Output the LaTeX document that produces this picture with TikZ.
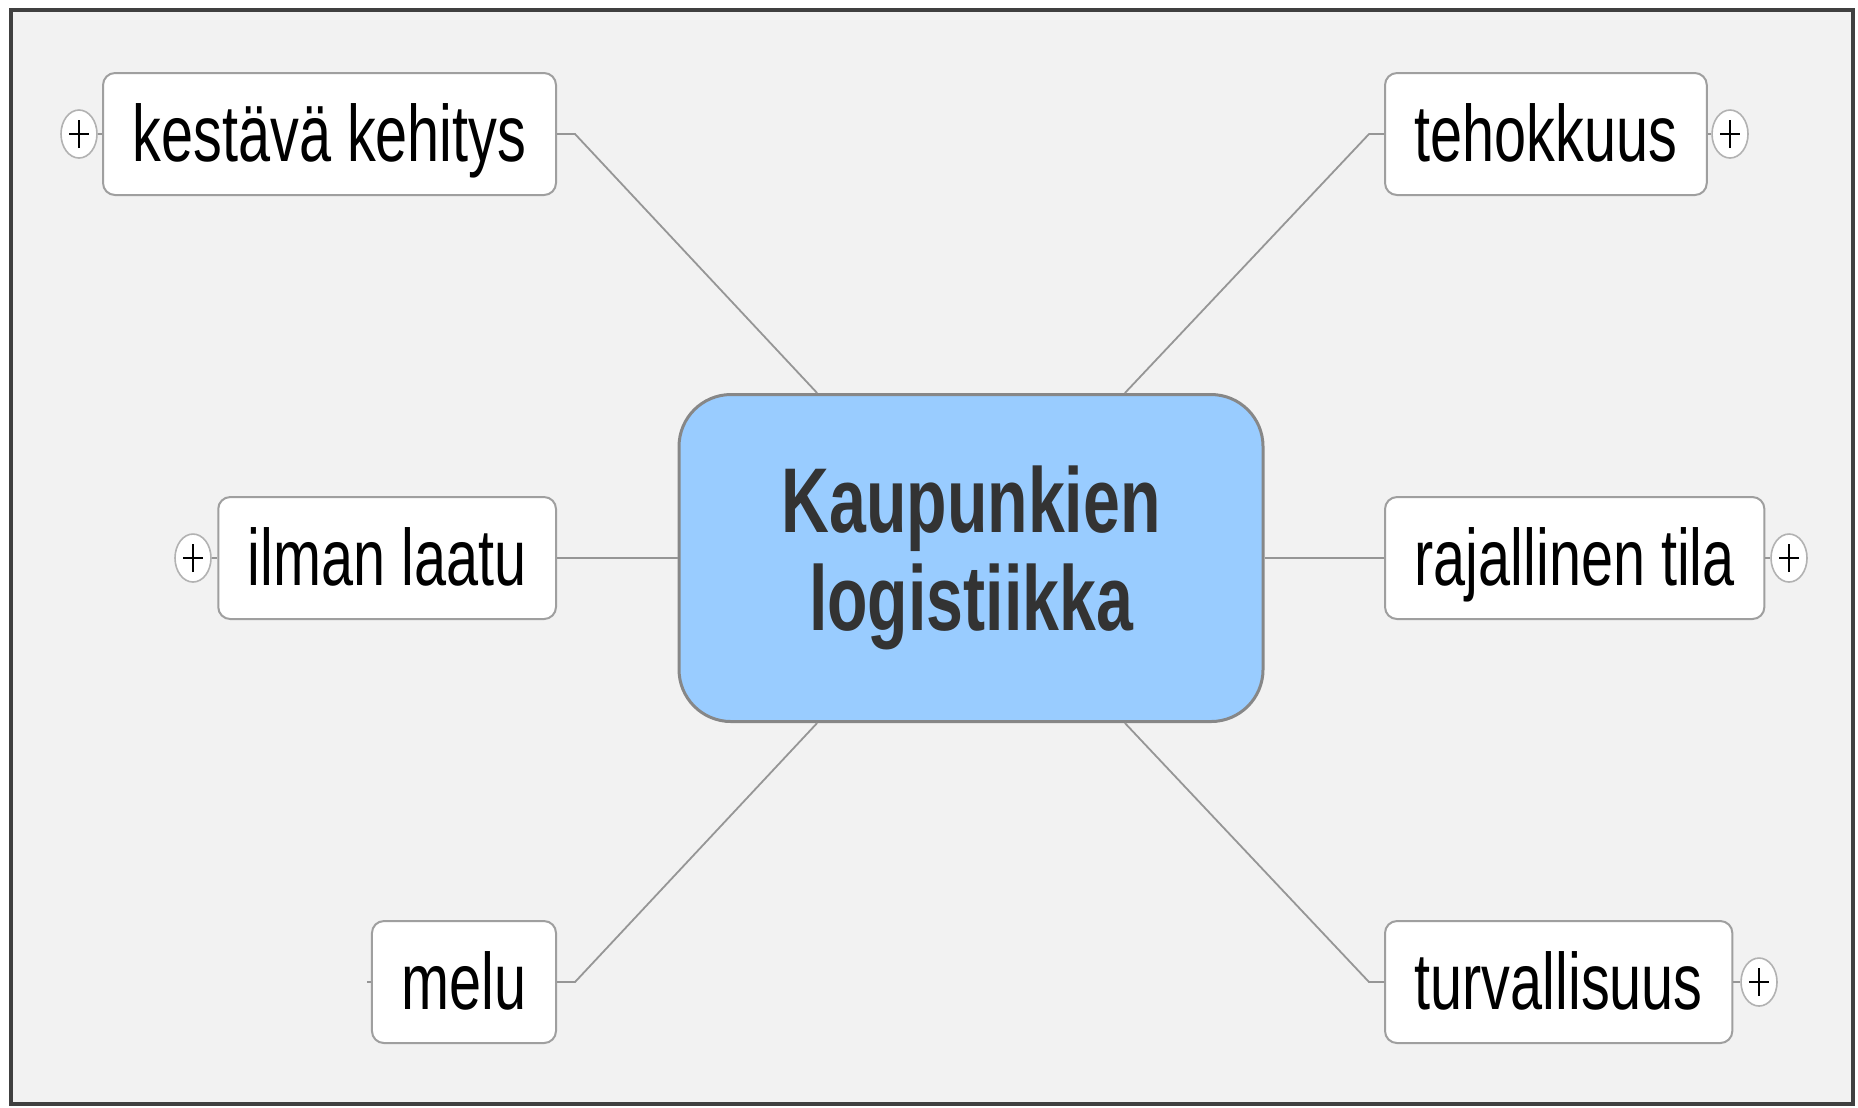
\documentclass[tikz,border=0pt]{standalone}
\usepackage{fontspec}
\newfontfamily\mapfont[FakeStretch=0.72]{Liberation Sans}
\usetikzlibrary{shapes.geometric}
\definecolor{hubblue}{RGB}{153, 204, 255}
\definecolor{canvasgray}{RGB}{242, 242, 242}
\definecolor{linkgray}{RGB}{150, 150, 150}
\definecolor{edgegray}{RGB}{135, 135, 135}

\begin{document}
\begin{tikzpicture}[x=0.25pt, y=-0.25pt,
    hub/.style={rectangle, rounded corners=13pt,
        minimum width=146pt, minimum height=81.75pt,
        align=center, inner sep=0pt,
        font=\mapfont\bfseries\fontsize{23}{24.5}\selectfont,
        text=black!80, fill=hubblue, draw=edgegray, line width=0.75pt},
    topic/.style={rectangle, rounded corners=3pt,
        minimum height=30.5pt, inner xsep=7.4pt,
        text height=15.5pt, text depth=2pt,
        font=\mapfont\fontsize{20}{24}\selectfont,
        fill=white, draw=gray!75, line width=0.5pt},
    toggle/.style={ellipse, minimum width=9pt, minimum height=12pt,
        inner sep=0pt, fill=white, draw=gray!60, line width=0.4pt,
        path picture={
            \draw[black, line width=0.6pt]
                ([xshift=-2.5pt]path picture bounding box.center) --
                ([xshift=2.5pt]path picture bounding box.center);
            \draw[black, line width=0.6pt]
                ([yshift=-3.5pt]path picture bounding box.center) --
                ([yshift=3.5pt]path picture bounding box.center);}},
    link/.style={draw=linkgray, line width=0.45pt},
]

% ── CANVAS ──────────────────────────────────────────────────────────────────
\useasboundingbox (0,0) rectangle (1858,1107);
\fill[white] (0,0) rectangle (1858,1107);
\draw[fill=canvasgray, draw=black!75, line width=1pt] (11,10) rectangle (1853,1104);

% ── CENTRAL TOPIC ───────────────────────────────────────────────────────────
\node[hub] at (971, 558) (hub) {Kaupunkien\\logistiikka};

% ── LEFT BRANCHES (right edges at x=557) ────────────────────────────────────
\node[topic, anchor=east] at (557, 134) (kestava) {kestävä kehitys};
\node[topic, anchor=east] at (557, 558) (ilma)    {ilman laatu};
\node[topic, anchor=east] at (557, 982) (melu)    {melu};

\node[toggle] at (79,  134) (kestava-tog) {};
\node[toggle] at (193, 558) (ilma-tog)    {};
\coordinate (melu-stub) at (367, 982);

% ── RIGHT BRANCHES (left edges at x=1384) ───────────────────────────────────
\node[topic, anchor=west] at (1384, 134) (teho)   {tehokkuus};
\node[topic, anchor=west] at (1384, 558) (tila)   {rajallinen tila};
\node[topic, anchor=west] at (1384, 982) (turva)  {turvallisuus};

\node[toggle] at (1730, 134) (teho-tog)  {};
\node[toggle] at (1789, 558) (tila-tog)  {};
\node[toggle] at (1759, 982) (turva-tog) {};

% ── CONNECTORS ──────────────────────────────────────────────────────────────
\draw[link] (kestava.east) -- ++(18,0) -- (hub.133);
\draw[link] (ilma.east) -- (hub.west);
\draw[link] (melu.east) -- ++(18,0) -- (hub.227);

\draw[link] (teho.west) -- ++(-15,0) -- (hub.47);
\draw[link] (tila.west) -- (hub.east);
\draw[link] (turva.west) -- ++(-15,0) -- (hub.313);

% toggle stubs
\draw[link] (kestava-tog.east) -- (kestava.west);
\draw[link] (ilma-tog.east) -- (ilma.west);
\draw[link] (melu-stub) -- (melu.west);
\draw[link] (teho.east) -- (teho-tog.west);
\draw[link] (tila.east) -- (tila-tog.west);
\draw[link] (turva.east) -- (turva-tog.west);

\end{tikzpicture}
\end{document}
